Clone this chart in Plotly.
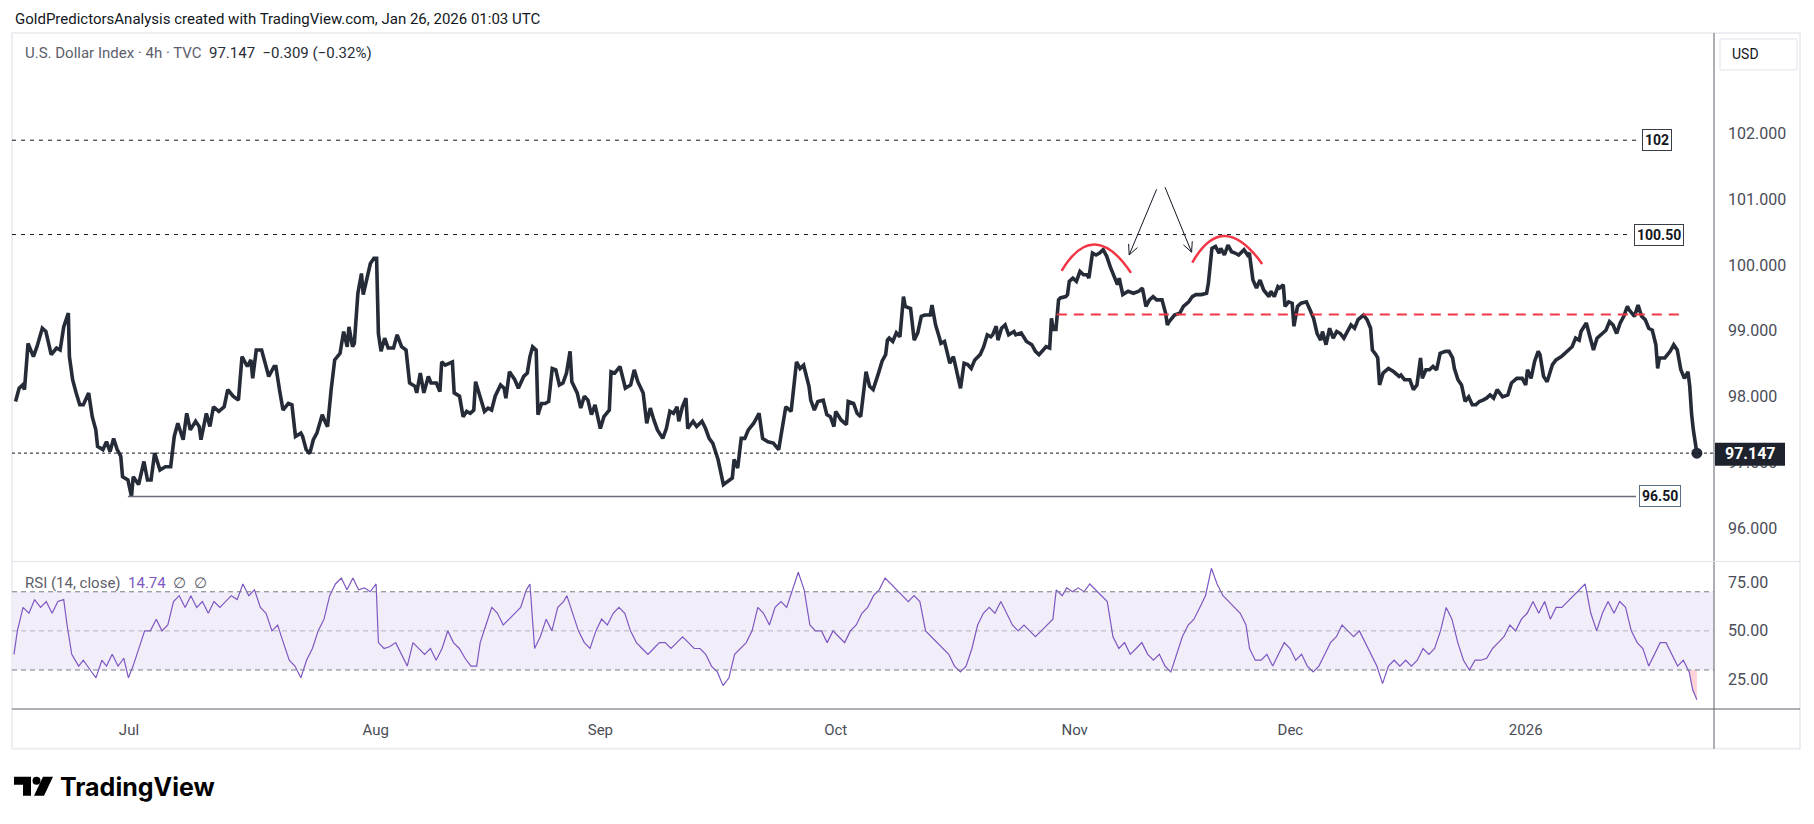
import math
import plotly.graph_objects as go

# ---------------- data (x = 4h bar index since chart start) ----------------
price_points = [
    (2, 97.93), (4, 98.13), (6, 98.18), (7, 98.11), (9, 98.81), (12, 98.61), (14, 98.76), (17, 99.04),
    (19, 98.99), (22, 98.64), (25, 98.74), (27, 98.71), (29, 99.06), (31.6, 99.27), (32.2, 98.61), (34, 98.26),
    (36, 98.06), (38, 97.88), (40, 97.88), (43, 98.06), (45, 97.70), (47, 97.50), (48, 97.25), (51, 97.20),
    (53, 97.32), (55, 97.17), (57, 97.37), (59, 97.20), (61, 97.10), (62, 96.79), (65, 96.74), (67, 96.49),
    (68, 96.79), (71, 96.67), (74, 97.02), (76, 96.74), (78, 96.74), (80, 97.15), (83, 96.89), (86, 96.94),
    (89, 96.94), (91, 97.40), (93, 97.60), (96, 97.35), (98, 97.75), (100, 97.50), (103, 97.63), (105, 97.55),
    (106, 97.35), (109, 97.75), (111, 97.55), (113, 97.85), (116, 97.78), (119, 97.85), (121, 98.11), (124, 98.01),
    (127, 97.95), (129, 98.61), (132, 98.46), (134, 98.56), (135, 98.28), (137, 98.71), (140, 98.71), (142, 98.49),
    (144, 98.31), (147, 98.46), (148, 98.46), (150, 98.11), (152, 97.80), (155, 97.90), (157, 97.88), (159, 97.40),
    (162, 97.45), (163, 97.40), (165, 97.20), (167, 97.14), (169, 97.35), (171, 97.45), (174, 97.73), (176, 97.60),
    (177, 97.55), (179, 98.11), (181, 98.56), (184, 98.66), (186, 98.99), (188, 98.76), (189, 99.06), (191, 98.76),
    (192, 98.81), (194, 99.57), (196, 99.87), (197, 99.55), (199, 99.80), (201, 100.02), (203, 100.10), (204.5, 100.10),
    (205.5, 98.96), (207, 98.69), (209, 98.89), (211, 98.74), (214, 98.74), (216, 98.94), (218.5, 98.76), (221, 98.71),
    (223, 98.21), (226, 98.16), (227, 98.06), (229, 98.36), (231, 98.06), (233.5, 98.31), (235, 98.21), (238, 98.21),
    (240, 98.08), (241, 98.53), (243, 98.48), (245, 98.51), (247, 98.53), (248, 98.06), (251, 98.01), (253, 97.70),
    (255, 97.78), (257, 97.75), (259, 97.80), (260, 98.23), (262, 98.06), (265, 97.78), (267, 97.83), (269, 97.80),
    (271, 98.01), (274, 98.18), (276, 98.13), (277, 97.98), (279, 98.38), (282, 98.26), (284, 98.13), (287, 98.31),
    (289, 98.36), (290.5, 98.61), (292, 98.76), (294, 98.71), (295, 97.73), (297, 97.90), (299, 97.90), (301, 97.93),
    (303, 98.43), (305, 98.41), (307, 98.18), (309, 98.21), (311, 98.36), (313, 98.69), (314, 98.23), (317, 98.06),
    (319, 97.83), (321, 98.01), (323, 97.95), (325, 97.73), (327, 97.88), (330, 97.52), (332, 97.70), (333, 97.73),
    (335, 97.80), (336, 98.38), (338, 98.36), (341, 98.46), (342, 98.33), (344, 98.13), (347, 98.18), (349, 98.41),
    (351, 98.23), (354, 98.06), (356, 97.60), (358, 97.83), (360, 97.65), (362, 97.50), (365, 97.37), (367, 97.52),
    (369, 97.78), (371, 97.75), (373, 97.85), (374, 97.63), (376, 97.85), (378, 97.98), (379, 97.52), (382, 97.63),
    (384, 97.55), (387, 97.63), (389, 97.52), (391, 97.37), (393, 97.30), (396, 97.05), (399, 96.67), (402, 96.74),
    (404, 96.77), (405, 97.05), (407, 96.92), (409, 97.37), (411, 97.37), (413, 97.50), (416, 97.60), (419, 97.75),
    (420, 97.50), (421, 97.37), (424, 97.32), (427, 97.30), (430, 97.20), (433, 97.75), (434, 97.85), (437, 97.78),
    (440, 98.53), (442, 98.43), (444, 98.48), (447, 98.16), (448, 97.95), (450, 97.80), (452, 97.93), (455, 97.95),
    (457, 97.73), (459, 97.70), (461, 97.55), (462, 97.78), (465, 97.65), (468, 97.58), (469, 97.93), (472, 97.90),
    (474, 97.75), (476, 97.70), (477.5, 98.06), (479, 98.38), (481, 98.16), (483, 98.11), (486, 98.36), (488, 98.54),
    (490, 98.64), (491, 98.86), (492, 98.89), (494, 98.84), (496, 98.97), (498, 98.91), (500, 99.52), (501, 99.37),
    (504, 99.34), (506, 98.86), (508, 98.97), (510, 99.22), (512, 99.24), (515, 99.24), (516, 99.39), (518, 99.09),
    (520, 98.91), (521, 98.81), (523, 98.84), (526, 98.51), (528, 98.61), (530, 98.36), (532, 98.13), (534, 98.51),
    (536, 98.49), (538, 98.43), (540, 98.56), (543, 98.64), (545, 98.76), (547, 98.94), (549, 98.91), (550, 98.94),
    (552, 99.07), (553, 98.86), (555, 99.04), (557, 99.09), (559, 98.94), (562, 98.99), (563, 98.94), (566, 98.97),
    (569, 98.84), (572, 98.79), (574, 98.69), (576, 98.64), (578, 98.71), (580, 98.76), (582, 98.74), (583, 99.19),
    (584, 99.02), (585.5, 99.02), (587, 99.47), (588, 99.50), (591, 99.52), (592, 99.55), (593, 99.75), (595, 99.80),
    (597, 99.75), (599, 99.90), (601, 99.85), (603, 99.85), (604, 99.80), (606, 100.18), (608, 100.15), (610, 100.18),
    (612, 100.23), (614, 100.13), (616, 99.97), (618, 99.82), (620, 99.70), (621, 99.80), (623, 99.55), (626, 99.60),
    (629, 99.57), (632, 99.60), (634, 99.65), (636, 99.37), (638, 99.47), (640, 99.52), (642, 99.47), (645, 99.47),
    (647, 99.27), (648, 99.09), (649, 99.14), (652, 99.24), (655, 99.27), (657, 99.37), (660, 99.44), (662, 99.52),
    (664, 99.55), (667, 99.55), (670, 99.57), (671, 99.72), (673, 100.25), (675, 100.28), (677, 100.18), (678, 100.25),
    (680, 100.15), (682, 100.30), (684, 100.20), (686, 100.18), (688, 100.15), (691, 100.23), (693, 100.15), (694, 100.18),
    (696, 99.77), (698, 99.65), (700, 99.77), (702, 99.62), (705, 99.52), (706, 99.60), (708, 99.52), (710, 99.67),
    (711, 99.65), (713, 99.70), (714, 99.37), (716, 99.44), (718, 99.42), (719, 99.07), (721, 99.37), (723, 99.42),
    (726, 99.44), (728, 99.32), (730, 99.19), (732, 98.96), (734, 98.86), (735, 98.99), (737, 98.79), (739, 99.04),
    (741, 98.89), (743, 98.99), (745, 98.96), (747, 98.89), (750, 99.04), (751, 99.09), (753, 99.04), (755, 99.17),
    (758, 99.24), (760, 99.17), (762, 99.04), (763, 98.71), (765, 98.64), (766, 98.59), (767, 98.18), (769, 98.36),
    (772, 98.43), (775, 98.38), (778, 98.31), (779, 98.33), (781, 98.26), (784, 98.26), (786, 98.11), (788, 98.18),
    (790, 98.59), (791, 98.28), (793, 98.41), (795, 98.41), (797, 98.46), (799, 98.41), (801, 98.66), (804, 98.69),
    (806, 98.69), (808, 98.59), (809, 98.43), (811, 98.26), (813, 98.18), (815, 97.93), (817, 98.00), (819, 97.88),
    (821, 97.88), (823, 97.93), (825, 97.95), (827, 97.98), (829, 98.03), (831, 97.98), (833, 98.11), (835, 98.03),
    (836, 98.00), (839, 98.03), (841, 98.21), (844, 98.28), (847, 98.28), (849, 98.18), (850, 98.41), (852, 98.28),
    (854, 98.54), (856, 98.69), (857, 98.64), (859, 98.31), (861, 98.23), (864, 98.49), (866, 98.56), (869, 98.61),
    (872, 98.69), (875, 98.76), (877, 98.89), (879, 98.86), (880, 98.99), (883, 99.12), (885, 98.91), (887, 98.71),
    (889, 98.89), (892, 98.96), (894, 99.01), (896, 99.14), (898, 99.09), (900, 98.96), (902, 99.12), (904, 99.22),
    (906, 99.37), (907, 99.32), (910, 99.22), (912, 99.39), (914, 99.22), (916, 99.17), (918, 99.04), (920, 99.01),
    (922, 98.79), (923, 98.43), (924, 98.59), (927, 98.59), (930, 98.69), (932, 98.79), (934, 98.71), (936, 98.41),
    (938, 98.28), (940, 98.38), (941, 98.16), (942, 97.75), (943, 97.50), (945, 97.147),
]

rsi_points = [
    (1.1, 38), (3.0, 50), (6.2, 62), (9.5, 59), (12.7, 66), (16.0, 62), (19.2, 65), (22.5, 59), (25.7, 65),
    (29.0, 66), (30.9, 53), (33.5, 38), (37.4, 32), (40.0, 35), (43.9, 30), (47.1, 26), (50.4, 35), (53.0, 32),
    (56.2, 38), (59.5, 32), (62.7, 36), (65.3, 26), (67.9, 32), (71.1, 41), (74.4, 50), (77.6, 50), (80.9, 56),
    (84.1, 50), (87.4, 53), (90.6, 65), (93.8, 68), (97.1, 62), (100.3, 68), (103.6, 62), (106.8, 65), (110.1, 59),
    (113.3, 65), (116.6, 62), (119.8, 65), (123.0, 68), (126.3, 66), (129.5, 74), (132.8, 68), (136.0, 71),
    (139.3, 62), (142.5, 59), (145.8, 50), (149.0, 53), (152.2, 44), (155.5, 35), (158.7, 32), (162.0, 26),
    (165.2, 35), (168.5, 41), (171.7, 50), (175.0, 56), (178.2, 68), (181.4, 74), (184.7, 77), (187.9, 71),
    (191.2, 77), (194.4, 71), (197.7, 72), (200.9, 70), (204.2, 74), (205.5, 44), (208.7, 41), (212.0, 42),
    (215.2, 44), (218.4, 38), (221.7, 32), (224.9, 44), (228.2, 41), (231.4, 38), (234.7, 41), (237.9, 35),
    (241.2, 41), (244.4, 50), (247.6, 44), (250.9, 41), (254.1, 36), (257.4, 32), (260.6, 32), (262.6, 44),
    (265.8, 53), (269.1, 62), (272.3, 59), (275.5, 53), (278.8, 56), (282.0, 59), (285.3, 62), (288.5, 71),
    (290.5, 74), (293.1, 41), (296.3, 47), (299.6, 56), (302.8, 50), (306.1, 62), (309.3, 65), (311.2, 68),
    (314.5, 59), (317.7, 50), (321.0, 44), (324.2, 41), (327.5, 50), (330.7, 56), (333.9, 53), (337.2, 59),
    (340.4, 62), (343.7, 59), (346.9, 50), (350.2, 44), (353.4, 41), (356.7, 38), (359.9, 41), (363.1, 44),
    (366.4, 44), (369.6, 41), (372.9, 44), (376.1, 47), (379.4, 44), (382.6, 41), (385.9, 41), (389.1, 38),
    (392.3, 32), (395.6, 29), (398.8, 22), (402.1, 26), (405.3, 38), (408.6, 41), (411.8, 44), (415.1, 50),
    (418.3, 62), (421.5, 59), (424.8, 53), (428.0, 62), (431.3, 65), (434.5, 62), (437.8, 71), (441.0, 80),
    (444.3, 71), (447.5, 53), (450.7, 50), (454.0, 50), (457.2, 44), (460.5, 50), (463.7, 47), (467.0, 44),
    (470.2, 50), (473.5, 53), (476.7, 59), (479.9, 62), (483.2, 68), (486.4, 71), (489.7, 77), (492.9, 74),
    (496.2, 71), (499.4, 68), (502.7, 65), (505.9, 68), (509.2, 65), (512.4, 50), (515.6, 47), (518.9, 44),
    (522.1, 41), (525.4, 38), (528.6, 32), (531.9, 29), (535.1, 32), (538.4, 41), (541.6, 53), (544.8, 59),
    (548.1, 62), (551.3, 59), (554.6, 65), (557.8, 59), (561.1, 53), (564.3, 50), (567.6, 53), (570.8, 50),
    (574.0, 47), (577.3, 50), (580.5, 53), (583.8, 56), (585.7, 71), (589.0, 68), (591.6, 72), (594.8, 70),
    (598.0, 72), (601.3, 70), (604.5, 74), (607.8, 71), (611.0, 68), (614.3, 65), (617.5, 47), (620.8, 41),
    (624.0, 44), (627.2, 38), (630.5, 41), (633.7, 44), (637.0, 38), (640.2, 35), (643.5, 38), (646.7, 32),
    (650.0, 29), (653.2, 38), (656.4, 47), (659.7, 53), (662.9, 56), (666.2, 62), (669.4, 68), (672.7, 82),
    (675.9, 74), (679.2, 68), (682.4, 65), (685.6, 62), (688.9, 59), (692.1, 53), (694.1, 41), (697.3, 35),
    (700.6, 35), (703.8, 38), (707.1, 32), (710.3, 38), (713.6, 44), (716.8, 41), (720.0, 35), (723.3, 38),
    (726.5, 32), (729.8, 29), (733.0, 32), (736.3, 38), (739.5, 44), (742.8, 47), (746.0, 53), (749.2, 50),
    (752.5, 47), (755.7, 50), (759.0, 44), (762.2, 38), (765.5, 32), (768.7, 23), (772.0, 32), (775.2, 35),
    (778.4, 32), (781.7, 35), (784.9, 32), (788.2, 35), (791.4, 41), (794.7, 38), (797.9, 41), (801.2, 50),
    (804.4, 62), (807.6, 56), (810.9, 44), (814.1, 35), (817.4, 30), (820.6, 35), (823.9, 35), (827.1, 36),
    (830.4, 41), (833.6, 44), (836.8, 47), (840.1, 53), (843.3, 50), (846.6, 56), (849.8, 59), (853.1, 65),
    (856.3, 59), (859.6, 65), (862.8, 56), (866.0, 62), (869.3, 62), (872.5, 65), (875.8, 68), (879.0, 71),
    (882.3, 74), (885.5, 59), (888.8, 50), (892.0, 59), (895.2, 65), (898.5, 59), (901.7, 65), (905.0, 62),
    (908.2, 50), (911.5, 44), (914.7, 41), (918.0, 32), (921.2, 38), (924.4, 44), (927.7, 44), (930.9, 38),
    (934.2, 32), (937.4, 35), (940.7, 29), (942.6, 20), (945.0, 14.74),
]

month_labels = ["Jul", "Aug", "Sep", "Oct", "Nov", "Dec", "2026"]
month_bars = [65.6, 204, 330, 462, 596, 717, 849]
price_ticks = [96, 97, 98, 99, 100, 101, 102]
rsi_ticks = [25, 50, 75]
rsi_band = (30, 70)
rsi_mid = 50

last_close = 97.147
change_abs = -0.309
change_pct = -0.32
last_rsi = 14.74

level_values = [101.89, 100.46]          # drawn dashed levels
level_labels = ["102", "100.50"]
support_value = 96.49
support_label = "96.50"
support_start_bar = 65
neck_value = 99.25
neck_bars = (586, 937)
# red arcs (start, peak, end) in (bar, price)
arcs = [((588.7, 99.91), (607.4, 100.31), (627.6, 99.88)),
        ((662.0, 100.035), (680.3, 100.44), (701.2, 100.015))]
# arrows (tail, head) in (bar, price)
arrows = [((642.0, 101.147), (626.6, 100.152)),
          ((646.7, 101.177), (661.6, 100.193))]

price_bars = [p[0] for p in price_points]
price_vals = [p[1] for p in price_points]
rsi_bars = [p[0] for p in rsi_points]
rsi_vals = [p[1] for p in rsi_points]

# ---------------- geometry ----------------
W, H = 1814, 824
PL, PR = 12, 1714
PT, PB = 34, 709.3
SPLIT = 561.7
XMAX = 954.6
Y1 = (95.505, 103.5)
Y2 = (10.05, 85.5)
dom_split = (PB - SPLIT) / (PB - PT)


def bx(b):
    return PL + b * (PR - PL) / XMAX


def py(p):
    return PT + (Y1[1] - p) / (Y1[1] - Y1[0]) * (SPLIT - PT)


def fx(px):
    return (px - PL) / (PR - PL)


def fy(pyy):
    return (PB - pyy) / (PB - PT)


def xbar(px):
    return (px - PL) * XMAX / (PR - PL)


FONT = "Roboto, Arial, sans-serif"
DARK = "#131722"
LINE = "#262b38"
PURPLE = "#7e57c2"

fig = go.Figure()

# price line
fig.add_trace(go.Scatter(x=price_bars, y=price_vals, mode="lines", xaxis="x", yaxis="y",
                         line=dict(color=LINE, width=3.6), hoverinfo="skip", showlegend=False))
fig.add_trace(go.Scatter(x=[price_bars[-1]], y=[price_vals[-1]], mode="markers", xaxis="x", yaxis="y",
                         marker=dict(color=LINE, size=11), hoverinfo="skip", showlegend=False))

# oversold fill at the end of RSI
lo = rsi_band[0]
tail_idx = len(rsi_points) - 1
while tail_idx > 0 and rsi_points[tail_idx - 1][1] < lo:
    tail_idx -= 1
(b0, v0), (b1, v1) = rsi_points[tail_idx - 1], rsi_points[tail_idx]
bc = b0 + (v0 - lo) / (v0 - v1) * (b1 - b0)
fb = [bc] + [p[0] for p in rsi_points[tail_idx:]]
fv = [lo] + [p[1] for p in rsi_points[tail_idx:]]
fig.add_trace(go.Scatter(x=fb, y=[lo] * len(fb), mode="lines", xaxis="x2", yaxis="y2",
                         line=dict(width=0), hoverinfo="skip", showlegend=False))
fig.add_trace(go.Scatter(x=fb, y=fv, mode="lines", xaxis="x2", yaxis="y2", fill="tonexty",
                         fillcolor="rgba(242,54,69,0.22)", line=dict(width=0), hoverinfo="skip",
                         showlegend=False))

# RSI line
fig.add_trace(go.Scatter(x=rsi_bars, y=rsi_vals, mode="lines", xaxis="x2", yaxis="y2",
                         line=dict(color=PURPLE, width=1.2), hoverinfo="skip", showlegend=False))

shapes = []
annotations = []

# RSI band and levels
shapes.append(dict(type="rect", xref="paper", yref="y2", x0=0, x1=1, y0=rsi_band[0], y1=rsi_band[1],
                   fillcolor="rgba(126,87,194,0.10)", line=dict(width=0), layer="below"))
for lv in rsi_band:
    shapes.append(dict(type="line", xref="paper", yref="y2", x0=0, x1=1, y0=lv, y1=lv,
                       line=dict(color="#787b86", width=1, dash="5px,4px")))
shapes.append(dict(type="line", xref="paper", yref="y2", x0=0, x1=1, y0=rsi_mid, y1=rsi_mid,
                   line=dict(color="rgba(120,123,134,0.5)", width=1, dash="5px,4px")))

# frame and separators
shapes.append(dict(type="rect", xref="paper", yref="paper", x0=fx(12), x1=fx(1800), y0=fy(749), y1=fy(33),
                   line=dict(color="#eceef2", width=2), layer="below"))
shapes.append(dict(type="line", xref="paper", yref="paper", x0=fx(1714), x1=fx(1714), y0=fy(749), y1=fy(33),
                   line=dict(color="#5d606b", width=1)))
shapes.append(dict(type="line", xref="paper", yref="paper", x0=fx(12), x1=fx(1800), y0=fy(PB), y1=fy(PB),
                   line=dict(color="#5d606b", width=1)))
shapes.append(dict(type="line", xref="paper", yref="paper", x0=fx(12), x1=fx(1800), y0=fy(SPLIT), y1=fy(SPLIT),
                   line=dict(color="#e0e3eb", width=1)))

# last price dotted line
shapes.append(dict(type="line", xref="paper", yref="y", x0=0, x1=1, y0=last_close, y1=last_close,
                   line=dict(color=DARK, width=1, dash="dot")))

# dashed resistance levels with boxes
label_px = [1657, 1659]
line_end_px = [1641, 1632]
for val, lab, lpx, epx in zip(level_values, level_labels, label_px, line_end_px):
    shapes.append(dict(type="line", xref="x", yref="y", x0=0, x1=xbar(epx), y0=val, y1=val,
                       line=dict(color=DARK, width=1, dash="4px,5px")))
    annotations.append(dict(xref="paper", yref="y", x=fx(lpx), y=val, text="<b>%s</b>" % lab,
                            xanchor="center", yanchor="middle",
                            showarrow=False, font=dict(family=FONT, size=14, color=DARK),
                            bgcolor="white", bordercolor="#3a3d45", borderwidth=1, borderpad=2))

# support line
shapes.append(dict(type="line", xref="x", yref="y", x0=support_start_bar, x1=xbar(1636), y0=support_value,
                   y1=support_value, line=dict(color="#6a6d78", width=1.5)))
annotations.append(dict(xref="paper", yref="y", x=fx(1660), y=support_value, text="<b>%s</b>" % support_label,
                        xanchor="center", yanchor="middle",
                        showarrow=False, font=dict(family=FONT, size=14, color=DARK),
                        bgcolor="white", bordercolor="#5b7083", borderwidth=1, borderpad=2))

# neckline
shapes.append(dict(type="line", xref="x", yref="y", x0=neck_bars[0], x1=neck_bars[1], y0=neck_value,
                   y1=neck_value, line=dict(color="#f23645", width=2, dash="10px,7px")))

# arcs
for (s, p, e) in arcs:
    cx = 2 * p[0] - (s[0] + e[0]) / 2
    cy = 2 * p[1] - (s[1] + e[1]) / 2
    shapes.append(dict(type="path", xref="x", yref="y",
                       path="M %f,%f Q %f,%f %f,%f" % (s[0], s[1], cx, cy, e[0], e[1]),
                       line=dict(color="#f23645", width=2.5)))

# arrows with open heads
for (t, h) in arrows:
    tx, ty = bx(t[0]), py(t[1])
    hx, hy = bx(h[0]), py(h[1])
    shapes.append(dict(type="line", xref="paper", yref="paper", x0=fx(tx), y0=fy(ty), x1=fx(hx), y1=fy(hy),
                       line=dict(color=DARK, width=1)))
    ang = math.atan2(ty - hy, tx - hx)
    for d in (0.45, -0.45):
        wx = hx + 11 * math.cos(ang + d)
        wy = hy + 11 * math.sin(ang + d)
        shapes.append(dict(type="line", xref="paper", yref="paper", x0=fx(hx), y0=fy(hy), x1=fx(wx), y1=fy(wy),
                           line=dict(color=DARK, width=1)))

# USD box
shapes.append(dict(type="rect", xref="paper", yref="paper", x0=fx(1720), x1=fx(1797), y0=fy(70), y1=fy(39),
                   line=dict(color="#e0e3eb", width=1), fillcolor="white"))
annotations.append(dict(xref="paper", yref="paper", x=fx(1730), y=fy(54.5), text="USD", showarrow=False,
                        xanchor="left", yanchor="middle", font=dict(family=FONT, size=14, color=DARK)))

# last price label
shapes.append(dict(type="rect", xref="paper", yref="paper", x0=fx(1715), x1=fx(1785), y0=fy(466), y1=fy(443),
                   line=dict(width=0), fillcolor="#1e222d"))
annotations.append(dict(xref="paper", yref="y", x=fx(1750), y=last_close, text="<b>%.3f</b>" % last_close,
                        showarrow=False, xanchor="center", yanchor="middle",
                        font=dict(family=FONT, size=16, color="white")))

# header texts
annotations.append(dict(xref="paper", yref="paper", x=fx(13), y=fy(18.5),
                        text="GoldPredictorsAnalysis created with TradingView.com, Jan 26, 2026 01:03 UTC",
                        showarrow=False, xanchor="left", yanchor="middle",
                        font=dict(family=FONT, size=15, color=DARK)))
title = ("<span style='color:#5d606b'>U.S. Dollar Index \u00b7 4h \u00b7 TVC</span>\u00a0\u00a0%.3f\u00a0\u00a0"
         "\u2212%.3f (\u2212%.2f%%)" % (last_close, abs(change_abs), abs(change_pct)))
annotations.append(dict(xref="paper", yref="paper", x=fx(23), y=fy(53), text=title, showarrow=False,
                        xanchor="left", yanchor="middle", font=dict(family=FONT, size=15, color="#2a2e39")))
rsi_title = ("<span style='color:#5d606b'>RSI (14, close)</span>\u00a0\u00a0<span style='color:%s'>%.2f</span>"
             "\u00a0\u00a0<span style='color:#5d606b'>\u2205\u00a0\u00a0\u2205</span>" % (PURPLE, last_rsi))
annotations.append(dict(xref="paper", yref="paper", x=fx(23), y=fy(583), text=rsi_title, showarrow=False,
                        xanchor="left", yanchor="middle", font=dict(family=FONT, size=15, color="#5d606b")))


# TradingView logo
def P(pts):
    return "M " + " L ".join("%f,%f" % (fx(a), fy(b)) for a, b in pts) + " Z"


shapes.append(dict(type="path", xref="paper", yref="paper",
                   path=P([(14, 777), (31, 777), (31, 796), (23, 796), (23, 785), (14, 785)]),
                   fillcolor="black", line=dict(width=0)))
shapes.append(dict(type="circle", xref="paper", yref="paper", x0=fx(32.5), x1=fx(40.5), y0=fy(785), y1=fy(777),
                   fillcolor="black", line=dict(width=0)))
shapes.append(dict(type="path", xref="paper", yref="paper",
                   path=P([(43, 777), (53, 777), (44, 796), (34, 796)]),
                   fillcolor="black", line=dict(width=0)))
annotations.append(dict(xref="paper", yref="paper", x=fx(58), y=fy(787), text="<b>TradingView</b>",
                        showarrow=False, xanchor="left", yanchor="middle",
                        font=dict(family="Inter, Roboto, sans-serif", size=25, color="black")))

axis_font = dict(family=FONT, size=15, color="#4a4d57")
fig.update_layout(
    width=W, height=H, autosize=False,
    margin=dict(l=PL, r=W - PR, t=PT, b=H - PB, pad=0),
    paper_bgcolor="white", plot_bgcolor="white",
    showlegend=False,
    xaxis=dict(domain=[0, 1], range=[0, XMAX], anchor="y", showticklabels=False, showgrid=False,
               zeroline=False, showline=False, ticks=""),
    xaxis2=dict(domain=[0, 1], range=[0, XMAX], anchor="y2", matches="x", tickmode="array",
                tickvals=month_bars, ticktext=month_labels, showgrid=False, zeroline=False, showline=False,
                ticks="", tickfont=axis_font, ticklabelstandoff=10),
    yaxis=dict(domain=[dom_split, 1], range=list(Y1), anchor="x", side="right", tickmode="array",
               tickvals=price_ticks, tickformat=".3f", showgrid=False, zeroline=False, showline=False,
               ticks="", tickfont=dict(family=FONT, size=16, color="#4a4d57"), ticklabelstandoff=13),
    yaxis2=dict(domain=[0, dom_split], range=list(Y2), anchor="x2", side="right", tickmode="array",
                tickvals=rsi_ticks, tickformat=".2f", showgrid=False, zeroline=False, showline=False,
                ticks="", tickfont=dict(family=FONT, size=16, color="#4a4d57"), ticklabelstandoff=13),
    shapes=shapes,
    annotations=annotations,
)

fig.write_html("out.html", config={"displayModeBar": False, "responsive": False},
               post_script="document.body.style.margin='0';document.body.style.padding='0';")
